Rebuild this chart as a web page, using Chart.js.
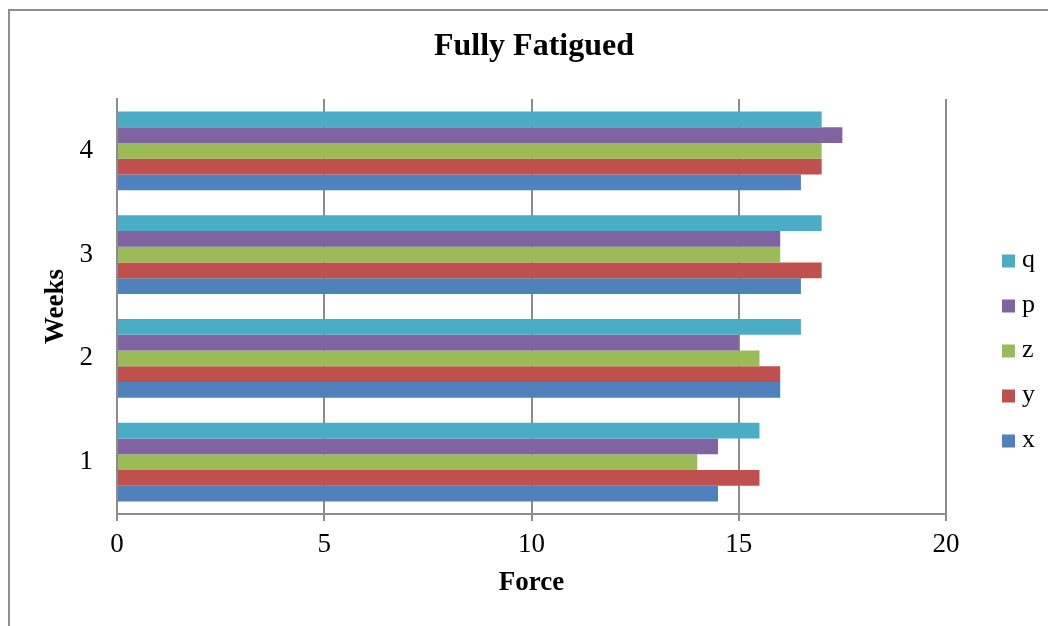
<!DOCTYPE html>
<html>
<head>
<meta charset="utf-8">
<title>Fully Fatigued</title>
<script src="https://cdn.jsdelivr.net/npm/chart.js@4/dist/chart.umd.min.js"></script>
<style>
  html, body { margin: 0; padding: 0; background: #ffffff; overflow: hidden; width: 1048px; height: 626px; }
  #frame {
    position: absolute; left: 8px; top: 9px; width: 1060px; height: 640px;
    border: 2px solid #8e8e8e; box-sizing: border-box;
  }
  #wrap { position: absolute; left: 0; top: 0; width: 1068px; height: 626px; }
</style>
</head>
<body>
<div id="frame"></div>
<div id="wrap"><canvas id="chart" width="1068" height="626"></canvas></div>
<script>
// Weeks on the category axis, force values per subject
const weeks = ['1', '2', '3', '4'];
const xForce = [14.5, 16, 16.5, 16.5];
const yForce = [15.5, 16, 17, 17];
const zForce = [14, 15.5, 16, 17];
const pForce = [14.5, 15, 16, 17.5];
const qForce = [15.5, 16.5, 17, 17];
const forceTicks = [0, 5, 10, 15, 20];

const serif = '"Liberation Serif", "Times New Roman", serif';
const gridGrey = '#8c8c8c';

// Legend drawn in the right-hand margin, one row per subject
const sideLegend = {
  id: 'sideLegend',
  afterDraw(chart) {
    const ctx = chart.ctx;
    const boxX = 1002, box = 13, firstY = 261, step = 45;
    ctx.save();
    ctx.font = '26px ' + serif;
    ctx.textBaseline = 'middle';
    ctx.textAlign = 'left';
    chart.data.datasets.forEach((ds, i) => {
      const cy = firstY + i * step;
      ctx.fillStyle = ds.backgroundColor;
      ctx.fillRect(boxX, cy - box / 2, box, box);
      ctx.fillStyle = '#000000';
      ctx.fillText(ds.label, boxX + 20, cy - 1);
    });
    ctx.restore();
  }
};

const datasets = [
  { label: 'q', data: qForce, backgroundColor: '#4BACC6', yAxisID: 'y' },
  { label: 'p', data: pForce, backgroundColor: '#8064A2', yAxisID: 'y' },
  { label: 'z', data: zForce, backgroundColor: '#9BBB59', yAxisID: 'y' },
  { label: 'y', data: yForce, backgroundColor: '#C0504D', yAxisID: 'y' },
  { label: 'x', data: xForce, backgroundColor: '#4F81BD', yAxisID: 'y' }
];

const tickFont = { family: serif, size: 27, lineHeight: 1.2 };
const axisTitleFont = { family: serif, size: 27, weight: 'bold', lineHeight: 1.2 };

new Chart(document.getElementById('chart'), {
  type: 'bar',
  data: { labels: weeks, datasets: datasets },
  options: {
    indexAxis: 'y',
    responsive: false,
    animation: false,
    devicePixelRatio: 1,
    layout: { padding: 0 },
    datasets: {
      bar: { categoryPercentage: 0.76, barPercentage: 1.0, borderWidth: 0 }
    },
    plugins: {
      legend: { display: false },
      tooltip: { enabled: false },
      title: {
        display: true,
        text: 'Fully Fatigued',
        color: '#000000',
        font: { family: serif, size: 32, weight: 'bold', lineHeight: 1.2 },
        padding: { top: 27.8, bottom: 32.8 }
      }
    },
    scales: {
      x: {
        type: 'linear',
        min: 0,
        max: 20,
        afterBuildTicks(scale) { scale.ticks = forceTicks.map(v => ({ value: v })); },
        afterFit(scale) { scale.height = 112; },
        ticks: { color: '#000000', font: tickFont, padding: 8, maxRotation: 0 },
        grid: { color: gridGrey, lineWidth: 2, drawTicks: true, tickLength: 7, tickColor: gridGrey },
        border: { display: true, color: gridGrey, width: 2 },
        title: {
          display: true,
          text: 'Force',
          color: '#000000',
          font: axisTitleFont,
          padding: { top: 0, bottom: 26.8 }
        }
      },
      y: {
        type: 'category',
        reverse: true,
        afterFit(scale) { scale.width = 117; },
        ticks: { color: '#000000', font: tickFont, padding: 24 },
        grid: { display: false, drawTicks: false },
        border: { display: true, color: gridGrey, width: 2 },
        title: {
          display: true,
          text: 'Weeks',
          color: '#000000',
          font: axisTitleFont,
          padding: { top: 39.8, bottom: 0 }
        }
      },
      // empty right-hand margin that holds the legend
      legendSpace: {
        type: 'category',
        axis: 'y',
        position: 'right',
        afterFit(scale) { scale.width = 122; },
        ticks: { display: false },
        grid: { display: false, drawTicks: false },
        border: { display: false }
      }
    }
  },
  plugins: [sideLegend]
});
</script>
</body>
</html>
